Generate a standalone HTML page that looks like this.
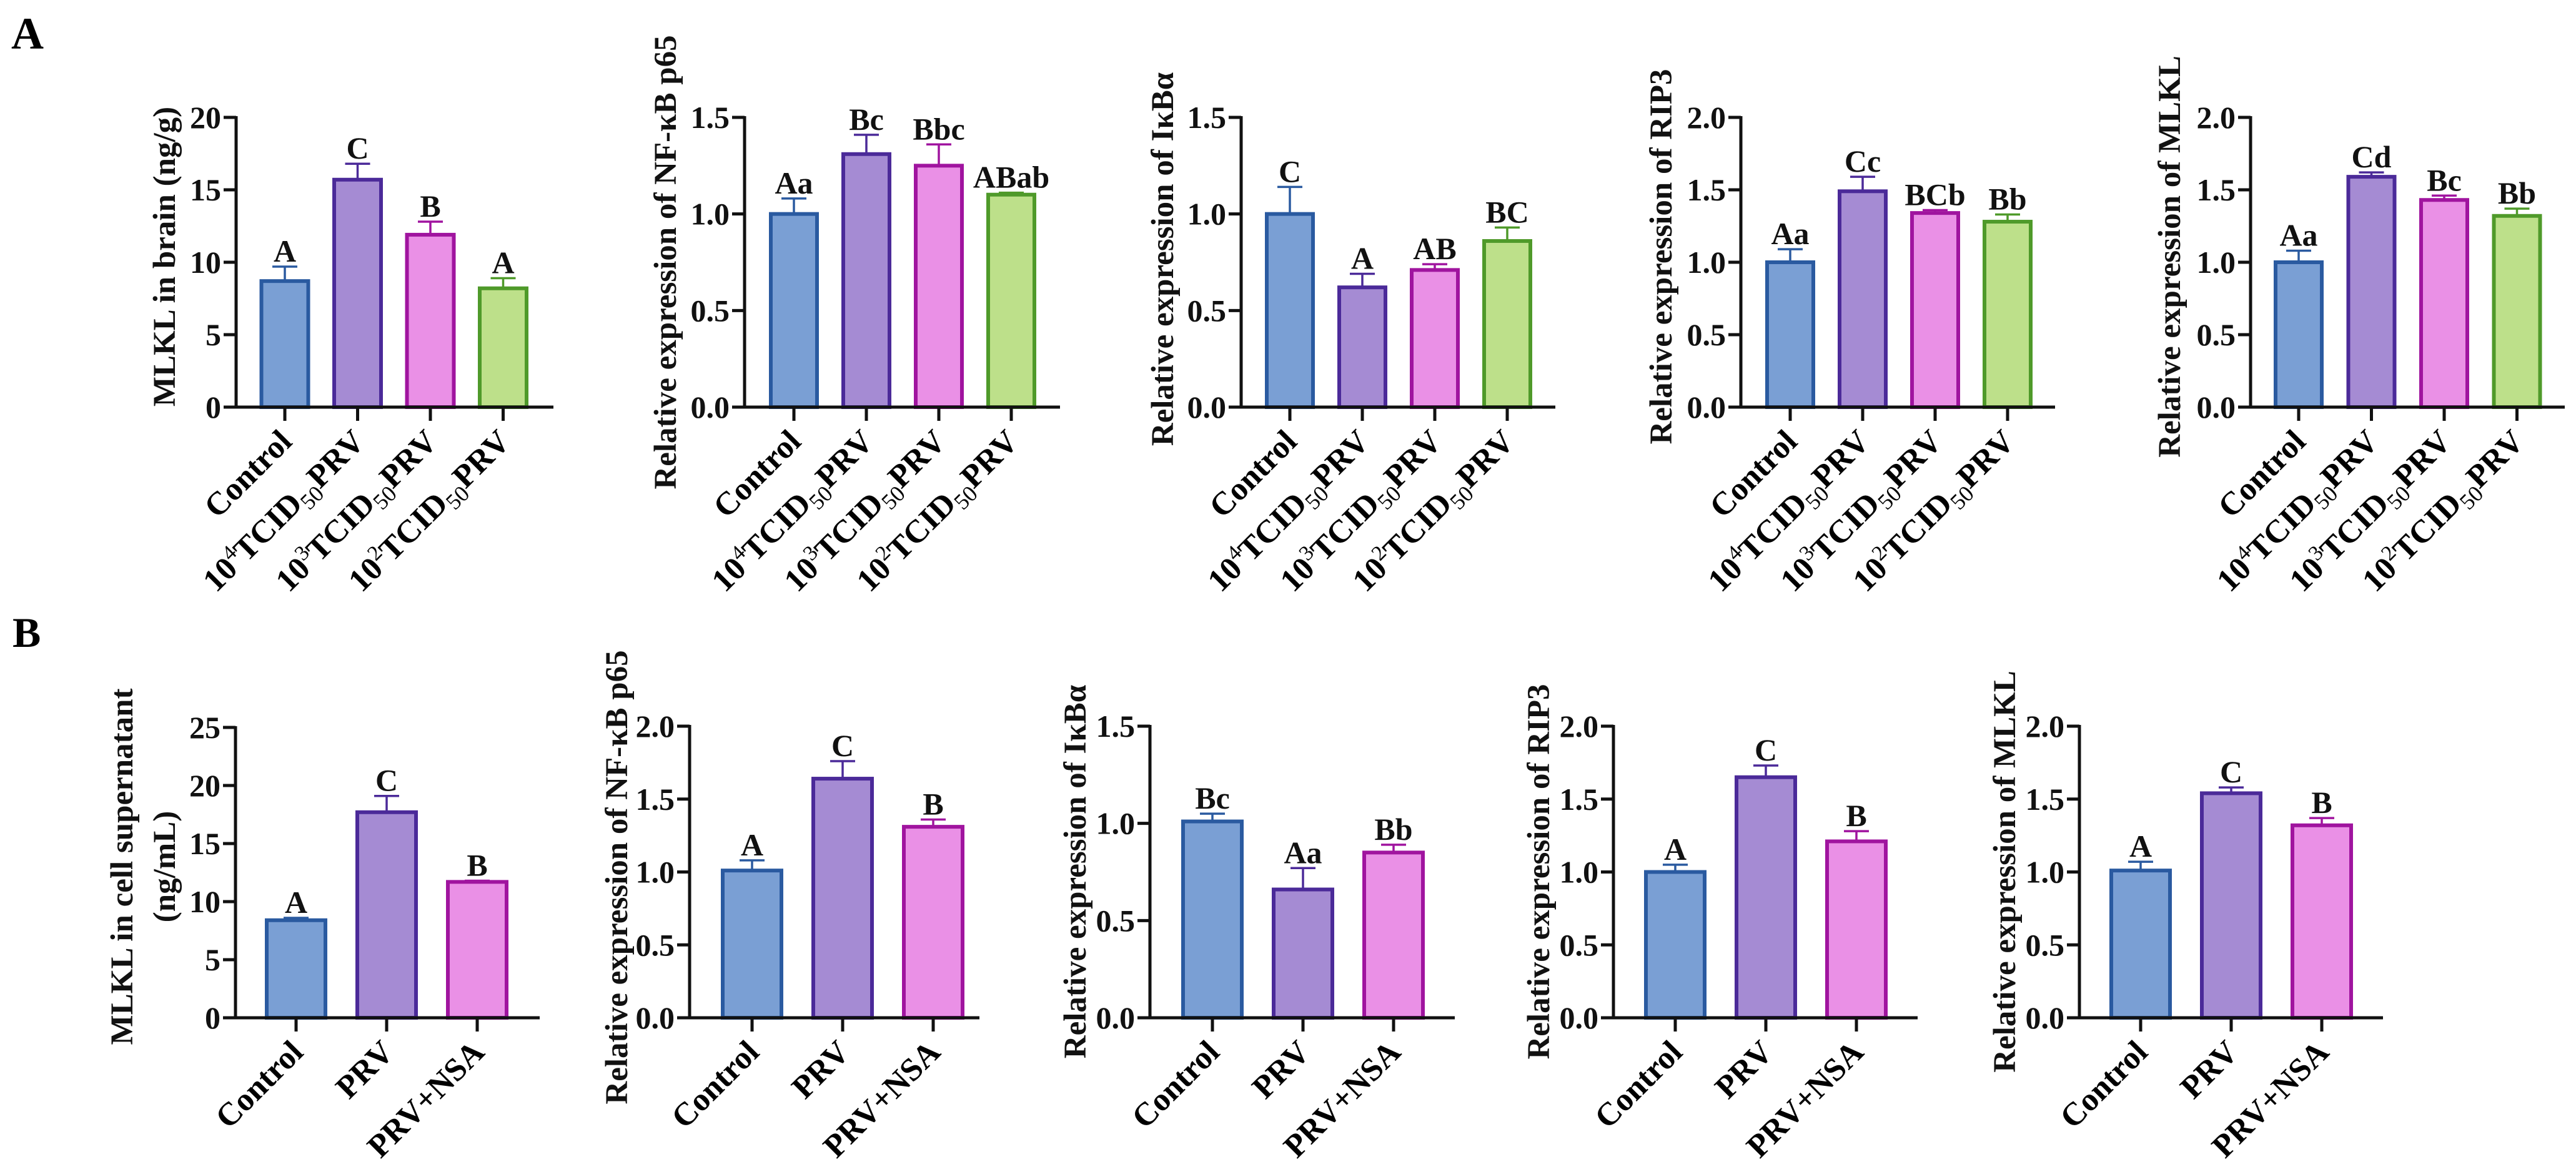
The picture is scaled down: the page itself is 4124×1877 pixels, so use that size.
<!DOCTYPE html>
<html><head><meta charset="utf-8"><style>
html,body{margin:0;padding:0;background:#fff;}
svg{display:block;font-family:"Liberation Serif",serif;font-weight:bold;}
</style></head><body>
<svg id="fig" width="4124" height="1877" viewBox="0 0 4124 1877" xmlns="http://www.w3.org/2000/svg">
<text x="18" y="78" font-size="72">A</text>
<text x="20" y="1036" font-size="68">B</text>
</svg>
<script>
// ---- data ----
const catsA = ["Control","10^4","10^3","10^2"];
const catsB = ["Control","PRV","PRV+NSA"];
const a1Values = [8.7, 15.7, 11.9, 8.2];
const a1Errors = [1.0, 1.1, 0.9, 0.7];
const a1Letters = ["A","C","B","A"];
const a1Ticks = ["0","5","10","15","20"];
const a2Values = [1.0, 1.31, 1.25, 1.10];
const a2Errors = [0.08, 0.10, 0.11, 0.01];
const a2Letters = ["Aa","Bc","Bbc","ABab"];
const a2Ticks = ["0.0","0.5","1.0","1.5"];
const a3Values = [1.0, 0.62, 0.71, 0.86];
const a3Errors = [0.14, 0.07, 0.03, 0.07];
const a3Letters = ["C","A","AB","BC"];
const a3Ticks = ["0.0","0.5","1.0","1.5"];
const a4Values = [1.0, 1.49, 1.34, 1.28];
const a4Errors = [0.09, 0.10, 0.02, 0.05];
const a4Letters = ["Aa","Cc","BCb","Bb"];
const a4Ticks = ["0.0","0.5","1.0","1.5","2.0"];
const a5Values = [1.0, 1.59, 1.43, 1.32];
const a5Errors = [0.08, 0.03, 0.03, 0.05];
const a5Letters = ["Aa","Cd","Bc","Bb"];
const a5Ticks = ["0.0","0.5","1.0","1.5","2.0"];
const b1Values = [8.4, 17.7, 11.7];
const b1Errors = [0.2, 1.4, 0.1];
const b1Letters = ["A","C","B"];
const b1Ticks = ["0","5","10","15","20","25"];
const b2Values = [1.01, 1.64, 1.31];
const b2Errors = [0.07, 0.12, 0.05];
const b2Letters = ["A","C","B"];
const b2Ticks = ["0.0","0.5","1.0","1.5","2.0"];
const b3Values = [1.01, 0.66, 0.85];
const b3Errors = [0.04, 0.11, 0.04];
const b3Letters = ["Bc","Aa","Bb"];
const b3Ticks = ["0.0","0.5","1.0","1.5"];
const b4Values = [1.0, 1.65, 1.21];
const b4Errors = [0.05, 0.08, 0.07];
const b4Letters = ["A","C","B"];
const b4Ticks = ["0.0","0.5","1.0","1.5","2.0"];
const b5Values = [1.01, 1.54, 1.32];
const b5Errors = [0.06, 0.04, 0.05];
const b5Letters = ["A","C","B"];
const b5Ticks = ["0.0","0.5","1.0","1.5","2.0"];

// ---- layout ----
const fills = ["#7a9fd4","#a58bd3","#ea90e6","#bde08a"];
const strokes = ["#2a5aa0","#4b2a99","#a0149f","#4f9a2a"];
const NS = "http://www.w3.org/2000/svg";
const svg = document.getElementById("fig");
function mk(tag, attrs, parent){const e=document.createElementNS(NS,tag);for(const k in attrs)e.setAttribute(k,attrs[k]);(parent||svg).appendChild(e);return e;}

const panels = [
 {id:"a1",ax:378,x1:886,top:188,zero:652,firstOff:78,step:116.5,bw:75,cats:catsA,vals:a1Values,errs:a1Errors,lets:a1Letters,ticks:a1Ticks,max:20,title:["MLKL in brain (ng/g)"],tx:[280],ty:411},
 {id:"a2",ax:1192,x1:1697,top:188,zero:652,firstOff:79,step:116,bw:74,cats:catsA,vals:a2Values,errs:a2Errors,lets:a2Letters,ticks:a2Ticks,max:1.5,title:["Relative expression of NF-κB p65"],tx:[1082],ty:420},
 {id:"a3",ax:1987,x1:2490,top:188,zero:652,firstOff:78,step:116,bw:74,cats:catsA,vals:a3Values,errs:a3Errors,lets:a3Letters,ticks:a3Ticks,max:1.5,title:["Relative expression of IκBα"],tx:[1878],ty:415},
 {id:"a4",ax:2787,x1:3290,top:188,zero:652,firstOff:79,step:116,bw:74,cats:catsA,vals:a4Values,errs:a4Errors,lets:a4Letters,ticks:a4Ticks,max:2,title:["Relative expression of RIP3"],tx:[2676],ty:411},
 {id:"a5",ax:3603,x1:4106,top:188,zero:652,firstOff:77,step:116.5,bw:74,cats:catsA,vals:a5Values,errs:a5Errors,lets:a5Letters,ticks:a5Ticks,max:2,title:["Relative expression of MLKL"],tx:[3490],ty:411},
 {id:"b1",ax:377,x1:864,top:1165,zero:1630,firstOff:97,step:145,bw:94,cats:catsB,vals:b1Values,errs:b1Errors,lets:b1Letters,ticks:b1Ticks,max:25,title:["MLKL in cell supernatant","(ng/mL)"],tx:[212,280],ty:1388},
 {id:"b2",ax:1104,x1:1568,top:1163,zero:1630,firstOff:100,step:145,bw:94,cats:catsB,vals:b2Values,errs:b2Errors,lets:b2Letters,ticks:b2Ticks,max:2,title:["Relative expression of NF-κB p65"],tx:[1004],ty:1405},
 {id:"b3",ax:1841,x1:2329,top:1163,zero:1630,firstOff:100,step:145,bw:94,cats:catsB,vals:b3Values,errs:b3Errors,lets:b3Letters,ticks:b3Ticks,max:1.5,title:["Relative expression of IκBα"],tx:[1738],ty:1396},
 {id:"b4",ax:2583,x1:3070,top:1163,zero:1630,firstOff:99,step:145,bw:94,cats:catsB,vals:b4Values,errs:b4Errors,lets:b4Letters,ticks:b4Ticks,max:2,title:["Relative expression of RIP3"],tx:[2480],ty:1396},
 {id:"b5",ax:3329,x1:3815,top:1163,zero:1630,firstOff:98,step:145,bw:94,cats:catsB,vals:b5Values,errs:b5Errors,lets:b5Letters,ticks:b5Ticks,max:2,title:["Relative expression of MLKL"],tx:[3226],ty:1396}
];

function drawLabel(g, cat, x, y){
  const t = mk("text",{x:x,y:y,"font-size":52,"text-anchor":"end",transform:`rotate(-45 ${x} ${y})`},g);
  
  
  if(cat.startsWith("10^")){
    const exp = cat.slice(3);
    mk("tspan",{},t).textContent="10";
    const s1=mk("tspan",{dy:-20,"font-size":34,"font-weight":"normal"},t); s1.textContent=exp;
    mk("tspan",{dy:20},t).textContent="TCID";
    const s2=mk("tspan",{dy:12,"font-size":36,"font-weight":"normal"},t); s2.textContent="50";
    mk("tspan",{dy:-12},t).textContent="PRV";
  } else t.textContent=cat;
}

panels.forEach(p=>{
  const g = mk("g",{});
  
  
  const y = v => p.zero - (v/p.max)*(p.zero-p.top);
  const xc = i => p.ax + p.firstOff + i*p.step;
  p.vals.forEach((v,i)=>{
    const r = mk("rect",{x:xc(i)-p.bw/2,y:y(v),width:p.bw,height:p.zero-y(v),fill:fills[i],stroke:strokes[i],"stroke-width":6},g);
    
    
    const et = y(v+p.errs[i]);
    const el = mk("path",{d:`M${xc(i)} ${y(v)} V${et} M${xc(i)-20} ${et} H${xc(i)+20}`,stroke:strokes[i],"stroke-width":3.5,fill:"none"},g);
    
    
    const lt = mk("text",{x:xc(i),y:et-8,"font-size":50,"text-anchor":"middle",fill:"#111"},g);
    
    
    lt.textContent=p.lets[i];
    const xt = mk("line",{x1:xc(i),x2:xc(i),y1:p.zero,y2:p.zero+22,stroke:"#111","stroke-width":5},g);
    
    
    drawLabel(g, p.cats[i], xc(i)+14, p.zero+58);
  });
  const ya = mk("line",{x1:p.ax,x2:p.ax,y1:p.top-2,y2:p.zero+2,stroke:"#111","stroke-width":5},g);
  
  
  const xa = mk("line",{x1:p.ax-20,x2:p.x1,y1:p.zero,y2:p.zero,stroke:"#111","stroke-width":5},g);
  
  
  p.ticks.forEach(tl=>{
    const v = parseFloat(tl);
    const ty = y(v);
    const tk = mk("line",{x1:p.ax-20,x2:p.ax,y1:ty,y2:ty,stroke:"#111","stroke-width":5},g);
    
    
    const tt = mk("text",{x:p.ax-24,y:ty+17,"font-size":50,"text-anchor":"end",fill:"#111"},g);
    
    
    tt.textContent=tl;
  });
  p.title.forEach((line,k)=>{
    const tx = p.tx[k];
    const t = mk("text",{x:tx,y:p.ty,"font-size":51,"text-anchor":"middle",transform:`rotate(-90 ${tx} ${p.ty})`,fill:"#111"},g);
    
    
    t.textContent=line;
  });
});
</script>
</body></html>
